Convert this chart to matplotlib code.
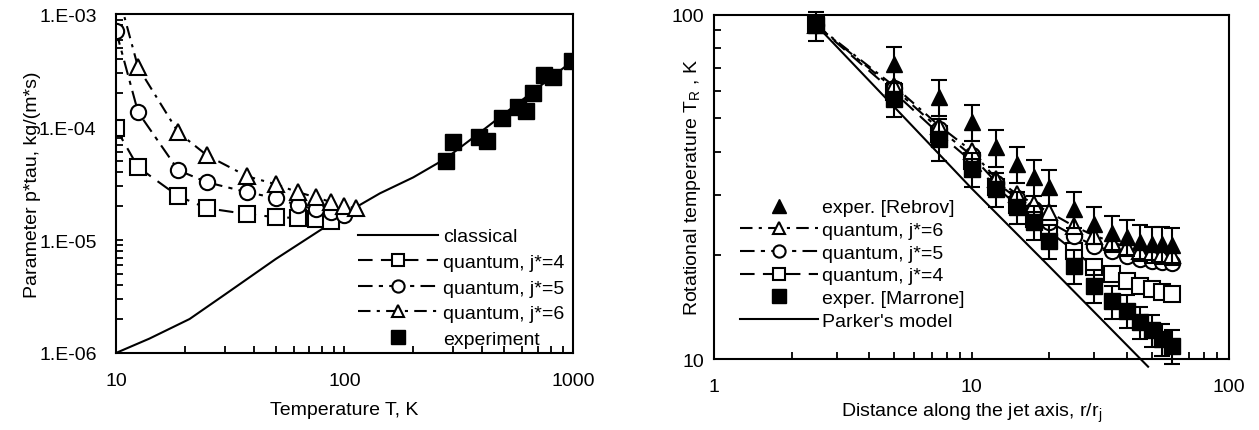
import numpy as np
import matplotlib
matplotlib.use("Agg")
import matplotlib.pyplot as plt
from matplotlib.lines import Line2D
from matplotlib.ticker import FixedLocator, LogLocator, NullFormatter

plt.rcParams["font.family"] = ["Liberation Sans", "DejaVu Sans"]
plt.rcParams["font.size"] = 14

# --- left panel: p*tau vs temperature ---
T_classical = [10, 14, 21, 30, 50, 80, 100, 143, 200, 278, 400, 600, 1000]
p_classical = [1.0e-6, 1.34e-6, 2.0e-6, 3.3e-6, 6.8e-6, 1.26e-5, 1.71e-5, 2.6e-5,
               3.6e-5, 5.3e-5, 9.3e-5, 1.75e-4, 3.9e-4]

T_q = [10, 12.5, 18.75, 25, 37.5, 50, 62.5, 75, 87.5, 100, 112.5]
p_q4 = [9.8e-5, 4.43e-5, 2.45e-5, 1.92e-5, 1.70e-5, 1.60e-5, 1.57e-5, 1.53e-5, 1.47e-5]
p_q5 = [7.2e-4, 1.36e-4, 4.16e-5, 3.26e-5, 2.66e-5, 2.36e-5, 2.04e-5, 1.88e-5, 1.77e-5, 1.66e-5]
p_q6 = [1.8e-3, 3.4e-4, 9.0e-5, 5.65e-5, 3.68e-5, 3.13e-5, 2.66e-5, 2.40e-5, 2.17e-5, 2.0e-5, 1.92e-5]

T_exp = [278, 298, 388, 421, 489, 574, 622, 668, 746, 817, 990]
p_exp = [5.0e-5, 7.4e-5, 8.2e-5, 7.5e-5, 1.22e-4, 1.5e-4, 1.39e-4, 2.0e-4, 2.88e-4, 2.77e-4, 3.84e-4]

y_ticks_left = [1e-6, 1e-5, 1e-4, 1e-3]
y_labels_left = ["1.E-06", "1.E-05", "1.E-04", "1.E-03"]

# --- right panel: rotational temperature vs distance ---
r = [2.5, 5, 7.5, 10, 12.5, 15, 17.5, 20, 25, 30, 35, 40, 45, 50, 55, 60]
T_j6 = [93, 62, 47.5, 40.2, 33.3, 30.1, 28.2, 26.7, 24.3, 22.8, 21.9, 21.1, 20.6, 20.4, 20.2, 20.0]
T_j5 = [93, 61, 46.5, 39, 32.5, 29.3, 27.3, 25.0, 22.8, 21.3, 20.6, 19.9, 19.5, 19.2, 19.1, 19.0]
T_j4 = [93, 59.5, 45, 37.5, 31.5, 28, 25.5, 23.5, 20.6, 18.5, 17.7, 16.8, 16.3, 16.0, 15.6, 15.4]

r_rebrov = r[1:]
T_rebrov = [71.8, 57.6, 48.8, 41.2, 36.8, 33.8, 31.6, 27.3, 24.6, 23.2, 22.6, 21.9, 21.6, 21.5, 21.4]
err_rebrov = [8.5, 6.8, 6, 5, 4.4, 4, 3.8, 3.3, 3, 2.8, 2.7, 2.6, 2.6, 2.6, 2.6]

T_marrone = [93, 56.9, 43.6, 35.5, 31.1, 27.6, 25.0, 22.0, 18.6, 16.3, 14.7, 13.8, 12.8, 12.1, 11.4, 10.9]
err_marrone = [9, 6.5, 6, 4, 3.5, 3, 2.8, 2.5, 2.1, 1.8, 1.6, 1.5, 1.4, 1.3, 1.2, 1.2]

r_parker = [2.5, 5, 10, 20, 48.5]
T_parker = [93, 54, 31.3, 18.6, 9.5]

fig = plt.figure(figsize=(12.59, 4.31), dpi=100)
ax1 = fig.add_axes([0.0921, 0.1787, 0.3630, 0.7854])
ax2 = fig.add_axes([0.5671, 0.1647, 0.4091, 0.7993])

lw = 1.5
mk = dict(markerfacecolor="white", markeredgecolor="black", markeredgewidth=1.5, markersize=11)
ls4 = (0, (7, 4))
ls5 = (0, (7, 3, 2, 3))
ls6 = (0, (6, 3, 1.5, 3))

# left panel
ax1.plot(T_classical, p_classical, color="black", lw=lw, label="classical")
ax1.plot(T_q[:len(p_q4)], p_q4, color="black", lw=lw, ls=ls4, marker="s", label="quantum, j*=4", **mk)
ax1.plot(T_q[:len(p_q5)], p_q5, color="black", lw=lw, ls=ls5, marker="o", label="quantum, j*=5", **mk)
ax1.plot(T_q, p_q6, color="black", lw=lw, ls=ls6, marker="^", label="quantum, j*=6", **mk)
ax1.plot(T_exp, p_exp, ls="none", marker="s", color="black", markersize=12, label="experiment")

ax1.set_xscale("log")
ax1.set_yscale("log")
ax1.set_xlim(10, 1000)
ax1.set_ylim(1e-6, 1e-3)
ax1.yaxis.set_major_locator(FixedLocator(y_ticks_left))
ax1.set_yticklabels(y_labels_left)
ax1.set_xticks([10, 100, 1000])
ax1.set_xticklabels(["10", "100", "1000"])
ax1.set_xlabel("Temperature T, K")
ax1.set_ylabel("Parameter p*tau, kg/(m*s)")
ax1.xaxis.set_label_coords(0.5, -0.142)
ax1.yaxis.set_label_coords(-0.164, 0.5)
leg_kw = dict(frameon=False, handletextpad=0.25, borderpad=0, borderaxespad=0,
              markerscale=0.8)
ax1.legend(loc="upper left", bbox_to_anchor=(0.53, 0.37), handlelength=4.1,
           labelspacing=0.41, **leg_kw)

# right panel
ax2.plot(r_parker, T_parker, color="black", lw=lw, clip_on=False, label="Parker's model")
ax2.plot(r, T_j4, color="black", lw=lw, ls=ls4, marker="s", label="quantum, j*=4", **mk)
ax2.plot(r, T_j5, color="black", lw=lw, ls=ls5, marker="o", label="quantum, j*=5", **mk)
ax2.plot(r, T_j6, color="black", lw=lw, ls=ls6, marker="^", label="quantum, j*=6", **mk)
ax2.errorbar(r, T_marrone, yerr=err_marrone, fmt="s", color="black", markersize=12,
             elinewidth=1.5, capsize=5.5, capthick=1.5, clip_on=False)
ax2.errorbar(r_rebrov, T_rebrov, yerr=err_rebrov, fmt="^", color="black", markersize=12,
             elinewidth=1.5, capsize=5.5, capthick=1.5, clip_on=False)

ax2.set_xscale("log")
ax2.set_yscale("log")
ax2.set_xlim(1, 100)
ax2.set_ylim(10, 100)
ax2.set_xticks([1, 10, 100])
ax2.set_xticklabels(["1", "10", "100"])
ax2.set_yticks([10, 100])
ax2.set_yticklabels(["10", "100"])
ax2.set_xlabel("Distance along the jet axis, r/r$_\\mathregular{j}$")
ax2.set_ylabel("Rotational temperature T$_\\mathregular{R}$ , K")
ax2.xaxis.set_label_coords(0.5, -0.119)
ax2.yaxis.set_label_coords(-0.022, 0.5)

# legend order as in the original figure
h, l = ax2.get_legend_handles_labels()
handles = [Line2D([], [], ls="none", marker="^", color="black", markersize=12),
           h[3], h[2], h[1],
           Line2D([], [], ls="none", marker="s", color="black", markersize=12),
           h[0]]
labels = ["exper. [Rebrov]", "quantum, j*=6", "quantum, j*=5", "quantum, j*=4",
          "exper. [Marrone]", "Parker's model"]
ax2.legend(handles, labels, loc="upper left", bbox_to_anchor=(0.05, 0.465), handlelength=4.0,
           labelspacing=0.26, **leg_kw)

for ax in (ax1, ax2):
    for s in ax.spines.values():
        s.set_linewidth(1.5)
    ax.xaxis.set_minor_locator(LogLocator(base=10, subs=np.arange(2, 10)))
    ax.xaxis.set_minor_formatter(NullFormatter())
    ax.yaxis.set_minor_locator(LogLocator(base=10, subs=np.arange(2, 10)))
    ax.yaxis.set_minor_formatter(NullFormatter())
    ax.tick_params(which="both", direction="in", top=False, right=False, width=1.3, length=5)
    ax.tick_params(axis="x", which="both", pad=14)

ax1.tick_params(axis="y", which="both", pad=14)
ax2.tick_params(axis="y", which="both", pad=7)

fig.savefig("out.png", dpi=100)
